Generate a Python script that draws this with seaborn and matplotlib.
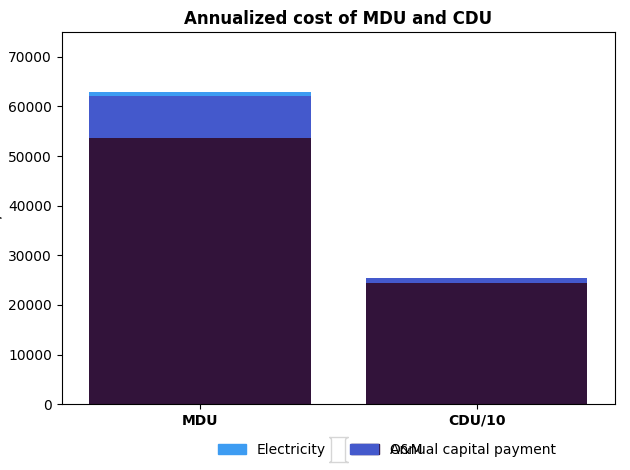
import numpy as np
import pandas as pd
import seaborn as sns
import matplotlib.pyplot as plt
from matplotlib.patches import Patch

# values
units = ['MDU', 'CDU/10']
capital = [53700, 24470]
om = [8300, 950]
electricity = [950, 60]

df = pd.DataFrame({'unit': units, 'capital': capital, 'om': om, 'el': electricity})
df['cap_om'] = df['capital'] + df['om']
df['total'] = df['cap_om'] + df['el']

colors = {'Annual capital payment': '#32133a', 'O&M': '#4459cc', 'Electricity': '#3d9cf2'}

fig, ax = plt.subplots(figsize=(6.3, 4.7), dpi=100)
sns.barplot(data=df, x='unit', y='total', color=colors['Electricity'], saturation=1, ax=ax)
sns.barplot(data=df, x='unit', y='cap_om', color=colors['O&M'], saturation=1, ax=ax)
sns.barplot(data=df, x='unit', y='capital', color=colors['Annual capital payment'], saturation=1, ax=ax)

ax.set_ylim(0, 75000)
ax.set_title('Annualized cost of MDU and CDU', fontweight='bold')
ax.set_ylabel('DKK/DU', fontweight='bold')
ax.set_xlabel('')
for t in ax.get_xticklabels():
    t.set_fontweight('bold')

handles = [Patch(color=c, label=k) for k, c in colors.items()]
ax.legend(handles=handles, loc='upper center', bbox_to_anchor=(0.5, -0.07), ncol=3, mode='expand')
fig.subplots_adjust(left=0.098, right=0.976, top=0.932, bottom=0.14)
plt.savefig('out.png')
